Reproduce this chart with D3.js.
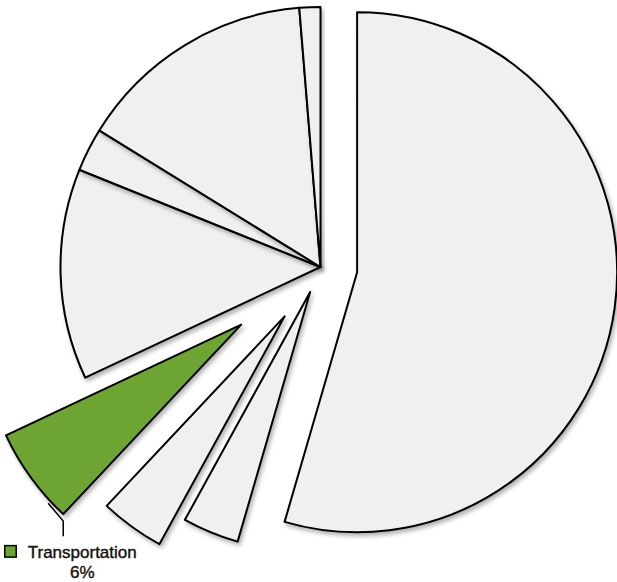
<!DOCTYPE html>
<html>
<head>
<meta charset="utf-8">
<script src="https://cdn.jsdelivr.net/npm/d3@7/dist/d3.min.js"></script>
<style>
  html, body { margin: 0; padding: 0; background: #ffffff; }
  svg { display: block; }
</style>
</head>
<body>
<script>
// Share of the total, in drawing order clockwise from 12 o'clock
const categories = ["Other A", "Other B", "Other C", "Transportation", "Other D", "Other E", "Other F", "Other G"];
const shares = [54.5, 3.5, 4, 6, 13.1, 2.7, 14.9, 1.3];
const labelled = ["Transportation"];
const labelText = ["6%"];

const width = 617, height = 582;
const cx = 320.5, cy = 267, radius = 260;
// how far each wedge is pulled out from the centre (px)
const pullOut = [37, 27, 61, 98, 0, 0, 0, 0];

const svg = d3.select("body").append("svg")
  .attr("width", width).attr("height", height);

const defs = svg.append("defs");
const shadow = defs.append("filter").attr("id", "shade")
  .attr("x", "-10%").attr("y", "-10%").attr("width", "130%").attr("height", "130%");
shadow.append("feDropShadow")
  .attr("dx", 2).attr("dy", 3).attr("stdDeviation", 2.2)
  .attr("flood-color", "#000").attr("flood-opacity", 0.3);

const rows = categories.map((c, i) => ({ name: c, value: shares[i], pull: pullOut[i] }));

const pie = d3.pie().sort(null).value(d => d.value).startAngle(0).endAngle(2 * Math.PI);
const arcs = pie(rows);
const arc = d3.arc().innerRadius(0).outerRadius(radius);

const fillFor = d => labelled.includes(d.data.name) ? "#6ea531" : "#f0f0f0";
const shift = d => {
  const mid = (d.startAngle + d.endAngle) / 2;
  return [d.data.pull * Math.sin(mid), -d.data.pull * Math.cos(mid)];
};

const g = svg.append("g").attr("transform", `translate(${cx},${cy})`);

g.selectAll("path.wedge")
  .data(arcs)
  .join("path")
  .attr("class", "wedge")
  .attr("d", arc)
  .attr("transform", d => { const [dx, dy] = shift(d); return `translate(${dx},${dy})`; })
  .attr("fill", fillFor)
  .attr("stroke", "#000")
  .attr("stroke-width", 2)
  .attr("stroke-linejoin", "round")
  .attr("filter", "url(#shade)");

const textStyle = sel => sel
  .attr("text-anchor", "middle")
  .attr("font-family", "'Liberation Sans', Arial, sans-serif")
  .attr("font-size", 17)
  .attr("fill", "#111")
  .attr("stroke", "#111")
  .attr("stroke-width", 0.4);

// Callout for the highlighted wedge
arcs.filter(d => labelled.includes(d.data.name)).forEach(d => {
  const [dx, dy] = shift(d);
  const at = (a, r) => [dx + r * Math.sin(a), dy - r * Math.cos(a)];
  const corner = at(d.startAngle, radius);
  const p0 = at(d.startAngle + 0.07, radius + 3);
  const p1 = [corner[0], corner[1] + 7];
  const p2 = [corner[0], corner[1] + 22];
  g.append("path")
    .attr("d", d3.line()([p0, p1, p2]))
    .attr("fill", "none")
    .attr("stroke", "#000")
    .attr("stroke-width", 1.5);

  const lx = cx + corner[0] + 19;
  const ly = cy + corner[1] + 43.5;
  const label = svg.append("g");
  const t1 = label.append("text")
    .attr("x", lx).attr("y", ly)
    .call(textStyle)
    .text(d.data.name);
  label.append("text")
    .attr("x", lx).attr("y", ly + 20.5)
    .call(textStyle)
    .text(labelText[labelled.indexOf(d.data.name)]);
  const bb = t1.node().getBBox();
  label.append("rect")
    .attr("x", bb.x - 23).attr("y", ly - 12)
    .attr("width", 11.5).attr("height", 11.5)
    .attr("fill", "#6ea531")
    .attr("stroke", "#000")
    .attr("stroke-width", 1.5);
});
</script>
</body>
</html>
